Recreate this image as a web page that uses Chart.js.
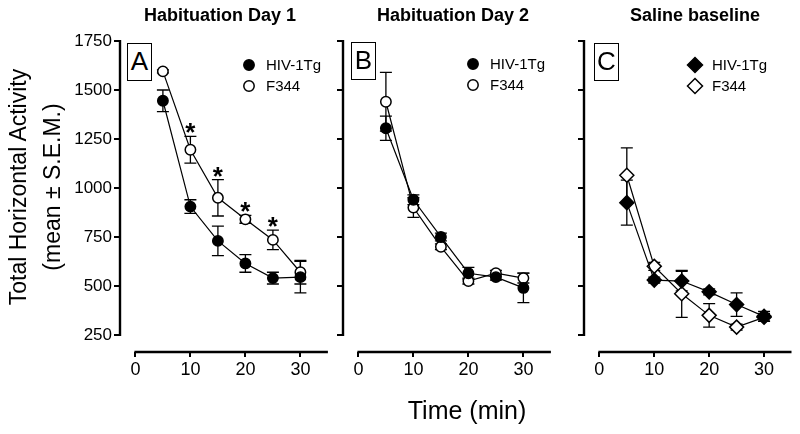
<!DOCTYPE html>
<html>
<head>
<meta charset="utf-8">
<script src="https://cdn.jsdelivr.net/npm/chart.js@4.4.1/dist/chart.umd.min.js"></script>
<style>
  body { margin: 0; background: #fff; }
  #wrap { position: relative; width: 800px; height: 434px; overflow: hidden;
          font-family: "Liberation Sans", Arial, sans-serif; color: #000; background: #fff; }
  canvas { position: absolute; left: 0; top: 0; }
  .ttl { position: absolute; top: 5px; font-weight: bold; font-size: 18px; line-height: 20px;
         transform: translateX(-50%); white-space: nowrap; }
  .tag { position: absolute; box-sizing: border-box; width: 25px; height: 38px; border: 1.6px solid #000;
         font-size: 26px; line-height: 35px; text-align: center; background: #fff; }
  #ytitle { position: absolute; left: -115px; top: 153px; width: 300px; height: 68px;
            transform: rotate(-90deg); text-align: center; font-size: 23px; line-height: 34px; white-space: nowrap; }
  #xtitle { position: absolute; left: 467px; top: 396px; transform: translateX(-50%);
            font-size: 25px; line-height: 28px; white-space: nowrap; }
</style>
</head>
<body>
<div id="wrap">
  <canvas id="cA" width="800" height="434"></canvas>
  <canvas id="cB" width="800" height="434"></canvas>
  <canvas id="cC" width="800" height="434"></canvas>
  <div class="ttl" style="left:220px">Habituation Day 1</div>
  <div class="ttl" style="left:453px">Habituation Day 2</div>
  <div class="ttl" style="left:695px">Saline baseline</div>
  <div class="tag" style="left:127px;top:43px">A</div>
  <div class="tag" style="left:351px;top:42px">B</div>
  <div class="tag" style="left:594px;top:43px">C</div>
  <div id="ytitle">Total Horizontal Activity<br>(mean ± S.E.M.)</div>
  <div id="xtitle">Time (min)</div>
</div>
<script>
// time bins (min)
const times = [5, 10, 15, 20, 25, 30];
const xTicks = [0, 10, 20, 30];
const yTicks = [250, 500, 750, 1000, 1250, 1500, 1750];
const seriesNames = ["HIV-1Tg", "F344"];

// A: Habituation Day 1
const day1Tg = [1445, 905, 730, 615, 540, 545];
const day1TgSem = [55, 35, 75, 45, 30, 80];
const day1F344 = [1595, 1195, 950, 840, 735, 570];
const day1F344Sem = [8, 68, 93, 20, 50, 60];
const day1Sig = [false, true, true, true, true, false];

// B: Habituation Day 2
const day2Tg = [1305, 940, 750, 565, 545, 490];
const day2TgSem = [62, 25, 20, 30, 15, 75];
const day2F344 = [1440, 900, 700, 525, 565, 540];
const day2F344Sem = [150, 50, 15, 15, 15, 25];

// C: Saline baseline
const salTg = [925, 530, 525, 470, 405, 345];
const salTgSem = [115, 15, 50, 15, 60, 25];
const salF344 = [1065, 600, 460, 350, 290, 340];
const salF344Sem = [140, 20, 120, 60, 15, 20];

const FONT = '"Liberation Sans", Arial, sans-serif';
const PX_PER_MIN = 5.5;
const X_MIN = -2.8, X_MAX = 35;
const PLOT_W = (X_MAX - X_MIN) * PX_PER_MIN;
const Y_W = 60, X_H = 40;
const PLOT_TOP = 41, PLOT_BOTTOM = 352;

// error bars under the markers
const errorBars = {
  id: "errorBars",
  beforeDatasetsDraw(chart) {
    const { ctx, scales: { x, y } } = chart;
    ctx.save();
    ctx.strokeStyle = "#000";
    ctx.lineWidth = 1.3;
    chart.data.datasets.forEach(ds => {
      ds.data.forEach((p, i) => {
        const e = ds.sem[i];
        if (!e) return;
        const px = x.getPixelForValue(p.x);
        const top = y.getPixelForValue(p.y + e);
        const bot = y.getPixelForValue(p.y - e);
        ctx.beginPath();
        ctx.moveTo(px, top); ctx.lineTo(px, bot);
        ctx.moveTo(px - 6, top); ctx.lineTo(px + 6, top);
        ctx.moveTo(px - 6, bot); ctx.lineTo(px + 6, bot);
        ctx.stroke();
      });
    });
    ctx.restore();
  }
};

// prism style axes: y line from 250 to 1750, x line from 0 to 35
const offsetAxes = {
  id: "offsetAxes",
  beforeDatasetsDraw(chart) {
    const { ctx, chartArea, scales: { x, y } } = chart;
    ctx.save();
    ctx.strokeStyle = "#000";
    ctx.lineWidth = 2.4;
    ctx.beginPath();
    ctx.moveTo(chartArea.left, y.getPixelForValue(yTicks[0]) + 1);
    ctx.lineTo(chartArea.left, y.getPixelForValue(yTicks[yTicks.length - 1]) - 1);
    ctx.moveTo(x.getPixelForValue(xTicks[0]) - 1, chartArea.bottom);
    ctx.lineTo(x.getPixelForValue(X_MAX), chartArea.bottom);
    ctx.stroke();
    ctx.restore();
  }
};

// asterisks above significant points
const sigStars = {
  id: "sigStars",
  afterDatasetsDraw(chart) {
    const { ctx, scales: { x, y } } = chart;
    ctx.save();
    ctx.fillStyle = "#000";
    ctx.font = "bold 26px " + FONT;
    ctx.textAlign = "center";
    ctx.textBaseline = "alphabetic";
    chart.data.datasets.forEach(ds => {
      if (!ds.sig) return;
      ds.data.forEach((p, i) => {
        if (!ds.sig[i]) return;
        ctx.fillText("*", x.getPixelForValue(p.x), y.getPixelForValue(p.y + ds.sem[i]) + 5);
      });
    });
    ctx.restore();
  }
};

function marker(ctx, style, fill, cx, cy, r) {
  ctx.beginPath();
  if (style === "rectRot") {
    ctx.moveTo(cx, cy - r); ctx.lineTo(cx + r, cy); ctx.lineTo(cx, cy + r); ctx.lineTo(cx - r, cy);
    ctx.closePath();
  } else {
    ctx.arc(cx, cy, r, 0, Math.PI * 2);
  }
  ctx.fillStyle = fill;
  ctx.fill();
  ctx.lineWidth = 1.5;
  ctx.strokeStyle = "#000";
  ctx.stroke();
}

const miniLegend = {
  id: "miniLegend",
  afterDraw(chart, args, opts) {
    const { ctx } = chart;
    ctx.save();
    ctx.font = "15px " + FONT;
    ctx.textBaseline = "middle";
    ctx.textAlign = "left";
    chart.data.datasets.forEach((ds, i) => {
      const cy = opts.y + i * 21;
      marker(ctx, ds.pointStyle, ds.pointBackgroundColor, opts.x, cy, ds.pointRadius + (ds.pointStyle === "rectRot" ? 0.5 : 0));
      ctx.fillStyle = "#000";
      ctx.fillText(ds.label, opts.x + 17, cy + 1);
    });
    ctx.restore();
  }
};

function series(label, vals, sem, style, fill, sig) {
  return {
    label: label,
    data: times.map((t, i) => ({ x: t, y: vals[i] })),
    sem: sem,
    sig: sig,
    borderColor: "#000",
    borderWidth: 1.2,
    pointStyle: style,
    pointRadius: style === "rectRot" ? 7 : 5.2,
    pointBackgroundColor: fill,
    pointBorderColor: "#000",
    pointBorderWidth: 1.5,
    tension: 0,
    clip: false
  };
}

function makePanel(id, left, showY, legendX, legendY, sets) {
  const axisFont = { family: FONT, size: 18 };
  new Chart(document.getElementById(id), {
    type: "line",
    data: { datasets: sets },
    options: {
      responsive: false,
      animation: false,
      events: [],
      layout: {
        padding: { left: left - Y_W, right: 800 - left - PLOT_W, top: PLOT_TOP, bottom: 434 - PLOT_BOTTOM - X_H }
      },
      scales: {
        x: {
          type: "linear",
          min: X_MIN,
          max: X_MAX,
          afterBuildTicks: s => { s.ticks = xTicks.map(v => ({ value: v })); },
          afterFit: s => { s.height = X_H; },
          border: { display: false },
          grid: { drawOnChartArea: false, color: "#000", lineWidth: 2, tickLength: 5 },
          ticks: { color: "#000", font: axisFont, padding: 2, maxRotation: 0, autoSkip: false, callback: v => String(v) }
        },
        y: {
          type: "linear",
          min: 163,
          max: 1750,
          afterBuildTicks: s => { s.ticks = yTicks.map(v => ({ value: v })); },
          afterFit: s => { s.width = Y_W; },
          border: { display: false },
          grid: { drawOnChartArea: false, color: "#000", lineWidth: 2, tickLength: 6 },
          ticks: { display: showY, color: "#000", font: { family: FONT, size: 17 }, padding: 2, autoSkip: false, callback: v => String(v) }
        }
      },
      plugins: {
        legend: { display: false },
        tooltip: { enabled: false },
        miniLegend: { x: legendX, y: legendY }
      }
    },
    plugins: [errorBars, offsetAxes, sigStars, miniLegend]
  });
}

makePanel("cA", 120, true, 249, 65, [
  series(seriesNames[0], day1Tg, day1TgSem, "circle", "#000", null),
  series(seriesNames[1], day1F344, day1F344Sem, "circle", "#fff", day1Sig)
]);
makePanel("cB", 343, false, 473, 64, [
  series(seriesNames[0], day2Tg, day2TgSem, "circle", "#000", null),
  series(seriesNames[1], day2F344, day2F344Sem, "circle", "#fff", null)
]);
makePanel("cC", 584, false, 695, 65, [
  series(seriesNames[0], salTg, salTgSem, "rectRot", "#000", null),
  series(seriesNames[1], salF344, salF344Sem, "rectRot", "#fff", null)
]);
</script>
</body>
</html>
